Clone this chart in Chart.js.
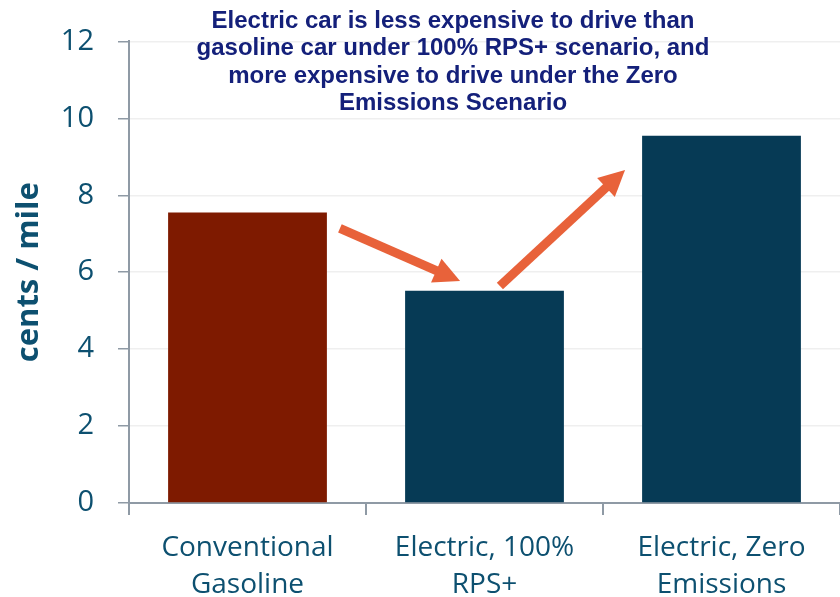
<!DOCTYPE html>
<html>
<head>
<meta charset="utf-8">
<script src="https://cdn.jsdelivr.net/npm/chart.js@4.4.1/dist/chart.umd.min.js"></script>
<style>
  html, body { margin: 0; padding: 0; background: #ffffff; }
  #wrap { width: 840px; height: 597px; position: relative; }
</style>
</head>
<body>
<div id="wrap"><canvas id="myChart" width="840" height="597"></canvas></div>
<script>
// categories and values
const categories = [['Conventional', 'Gasoline'], ['Electric, 100%', 'RPS+'], ['Electric, Zero', 'Emissions']]
const costs = [7.55, 5.52, 9.55]
const barColors = ['#7e1a00', '#063a55', '#063a55']
const yTicks = [0, 2, 4, 6, 8, 10, 12]
const headline = [
    'Electric car is less expensive to drive than',
    'gasoline car under 100% RPS+ scenario, and',
    'more expensive to drive under the Zero',
    'Emissions Scenario'
]
// arrows in data units: [x, y] (x = category index)
const arrowFrom = [[0.39, 7.14], [1.065, 5.64]]
const arrowTo = [[0.897, 5.77], [1.593, 8.66]]

const tealText = '#0d5070'
const axisGray = '#8f9aa5'

const arrowPlugin = {
    id: 'arrows',
    afterDatasetsDraw(chart) {
        const ctx = chart.ctx
        const xs = chart.scales.x
        const ys = chart.scales.y
        ctx.save()
        ctx.fillStyle = '#e8623a'
        ctx.strokeStyle = '#e8623a'
        arrowFrom.forEach((from, i) => {
            const to = arrowTo[i]
            const x1 = xs.getPixelForValue(from[0]), y1 = ys.getPixelForValue(from[1])
            const x2 = xs.getPixelForValue(to[0]), y2 = ys.getPixelForValue(to[1])
            const ang = Math.atan2(y2 - y1, x2 - x1)
            const headLen = 26, headW = 13
            const bx = x2 - headLen * Math.cos(ang), by = y2 - headLen * Math.sin(ang)
            ctx.lineWidth = 9
            ctx.beginPath()
            ctx.moveTo(x1, y1)
            ctx.lineTo(bx + 2 * Math.cos(ang), by + 2 * Math.sin(ang))
            ctx.stroke()
            ctx.beginPath()
            ctx.moveTo(x2, y2)
            ctx.lineTo(bx + headW * Math.sin(ang), by - headW * Math.cos(ang))
            ctx.lineTo(bx - headW * Math.sin(ang), by + headW * Math.cos(ang))
            ctx.closePath()
            ctx.fill()
        })
        ctx.restore()
    },
    afterDraw(chart) {
        const ctx = chart.ctx
        ctx.save()
        ctx.fillStyle = '#14207a'
        ctx.font = 'bold 24px "Liberation Sans", Arial, sans-serif'
        ctx.textAlign = 'center'
        ctx.textBaseline = 'middle'
        headline.forEach((line, i) => {
            ctx.fillText(line, 453, 21 + i * 27.5)
        })
        ctx.restore()
    }
}

const config = {
    type: 'bar',
    data: {
        labels: categories,
        datasets: [{
            data: costs,
            backgroundColor: barColors,
            borderWidth: 0,
            categoryPercentage: 1,
            barPercentage: 0.67
        }]
    },
    options: {
        responsive: false,
        animation: false,
        devicePixelRatio: 1,
        layout: { padding: { top: 39, right: 0, left: 0, bottom: 0 } },
        plugins: {
            legend: { display: false },
            tooltip: { enabled: false }
        },
        scales: {
            x: {
                grid: {
                    color: 'rgba(0,0,0,0)',
                    tickColor: axisGray,
                    tickLength: 12,
                    lineWidth: 2,
                    offset: true
                },
                border: { color: axisGray, width: 2 },
                ticks: {
                    color: tealText,
                    font: { family: '"Open Sans", sans-serif', size: 28, lineHeight: 1.33 },
                    padding: 14,
                    maxRotation: 0
                },
                afterFit: (s) => { s.height = 94 }
            },
            y: {
                min: 0,
                max: 12,
                afterBuildTicks: (s) => { s.ticks = yTicks.map(v => ({ value: v })) },
                grid: {
                    color: '#efefef',
                    tickColor: axisGray,
                    tickLength: 11,
                    lineWidth: 1.5
                },
                border: { color: axisGray, width: 2 },
                ticks: {
                    color: tealText,
                    font: { family: '"Open Sans", sans-serif', size: 29 },
                    padding: 24
                },
                title: {
                    display: true,
                    text: 'cents / mile',
                    color: tealText,
                    font: { family: '"Open Sans", sans-serif', size: 31, weight: 'bold' },
                    padding: { top: 11, bottom: 0 }
                },
                afterFit: (s) => { s.width = 129 }
            }
        }
    },
    plugins: [arrowPlugin]
}

let myChart = new Chart(document.getElementById('myChart').getContext('2d'), config)
</script>
</body>
</html>
